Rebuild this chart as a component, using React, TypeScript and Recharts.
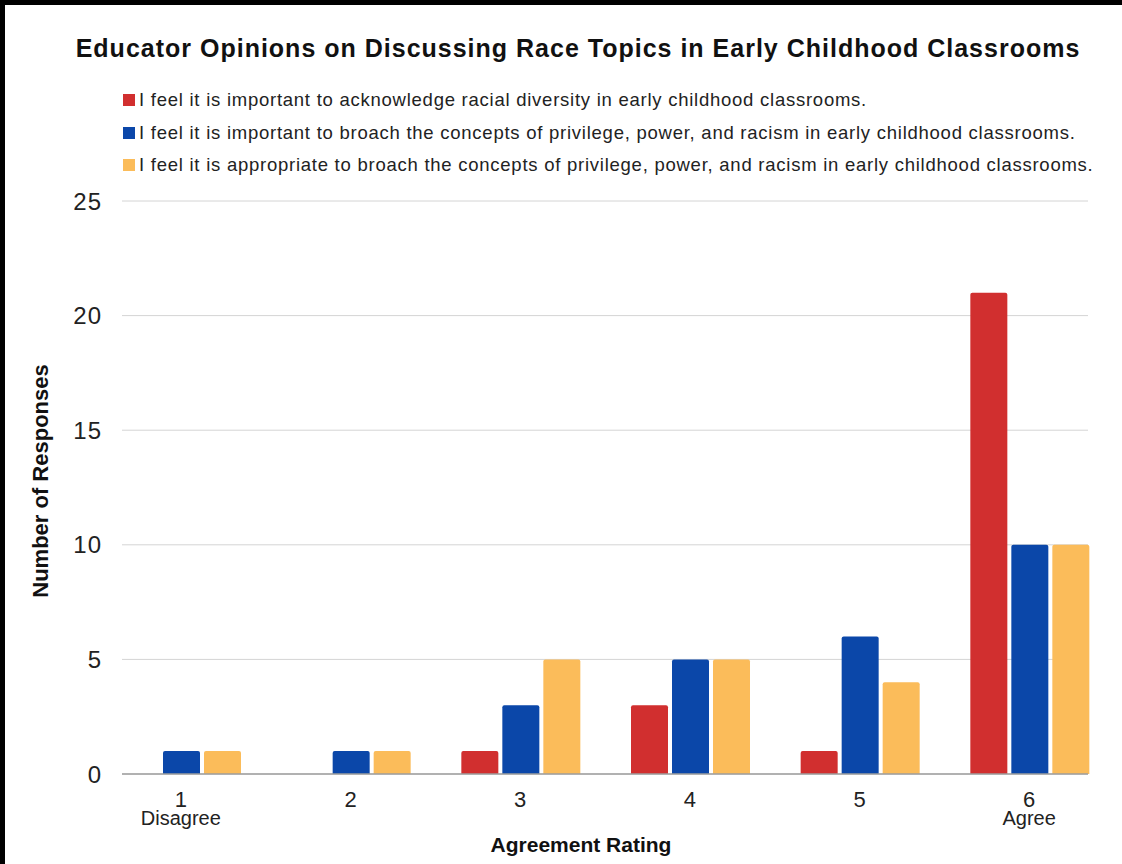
import { Bar, BarChart, CartesianGrid, XAxis, YAxis } from "recharts";

const RATINGS = ["1", "2", "3", "4", "5", "6"];
const RATING_NOTES = ["Disagree", "", "", "", "", "Agree"];
const ACKNOWLEDGE = [0, 0, 1, 3, 1, 21];
const IMPORTANT = [1, 1, 3, 5, 6, 10];
const APPROPRIATE = [1, 1, 5, 5, 4, 10];
const Y_TICKS = [0, 5, 10, 15, 20, 25];

const SERIES = [
  {
    key: "acknowledge",
    color: "#d12f2f",
    label: "I feel it is important to acknowledge racial diversity in early childhood classrooms.",
  },
  {
    key: "important",
    color: "#0b47a9",
    label:
      "I feel it is important to broach the concepts of privilege, power, and racism in early childhood classrooms.",
  },
  {
    key: "appropriate",
    color: "#fbbc5a",
    label:
      "I feel it is appropriate to broach the concepts of privilege, power, and racism in early childhood classrooms.",
  },
];

const data = RATINGS.map((r, i) => ({
  rating: r,
  acknowledge: ACKNOWLEDGE[i],
  important: IMPORTANT[i],
  appropriate: APPROPRIATE[i],
}));

const FONT = '"Liberation Sans", Arial, sans-serif';

const RatingTick = ({ x, y, payload, index }: any) => (
  <g>
    <text x={x} y={y} dy={25} textAnchor="middle" fontSize={22} fill="#222" fontFamily={FONT}>
      {payload.value}
    </text>
    {RATING_NOTES[index] && (
      <text x={x} y={y} dy={43} textAnchor="middle" fontSize={20} fill="#222" fontFamily={FONT}>
        {RATING_NOTES[index]}
      </text>
    )}
  </g>
);

export default function App() {
  return (
    <div
      style={{
        position: "fixed",
        left: 0,
        top: 0,
        width: 1122,
        height: 864,
        background: "#fff",
        fontFamily: FONT,
        overflow: "hidden",
      }}
    >
      {/* schwarzer Rand oben und links */}
      <div style={{ position: "absolute", left: 0, top: 0, width: 1122, height: 5, background: "#000" }} />
      <div style={{ position: "absolute", left: 0, top: 0, width: 5, height: 864, background: "#000" }} />

      <div
        style={{
          position: "absolute",
          left: 0,
          width: 1156,
          top: 34,
          textAlign: "center",
          fontSize: 25,
          letterSpacing: 1,
          fontWeight: "bold",
          color: "#111",
          whiteSpace: "nowrap",
        }}
      >
        Educator Opinions on Discussing Race Topics in Early Childhood Classrooms
      </div>

      <div style={{ position: "absolute", left: 123, top: 84 }}>
        {SERIES.map((s) => (
          <div
            key={s.key}
            style={{
              display: "flex",
              alignItems: "center",
              height: 32.5,
              fontSize: 18.5,
              letterSpacing: 0.75,
              color: "#222",
              whiteSpace: "nowrap",
            }}
          >
            <span style={{ width: 12, height: 12, background: s.color, marginRight: 4 }} />
            {s.label}
          </div>
        ))}
      </div>

      <BarChart
        width={1122}
        height={864}
        data={data}
        margin={{ top: 201, right: 34, bottom: 30, left: 20 }}
        barCategoryGap={26}
        barGap={4}
        style={{ position: "absolute", left: 0, top: 0 }}
      >
        <CartesianGrid vertical={false} stroke="#d4d4d4" />
        <XAxis
          dataKey="rating"
          padding={{ left: -26, right: -26 }}
          tick={<RatingTick />}
          tickLine={false}
          axisLine={{ stroke: "#9e9e9e", strokeWidth: 1.5 }}
          height={60}
          interval={0}
        />
        <YAxis
          domain={[0, 25]}
          ticks={Y_TICKS}
          width={102}
          tickLine={false}
          axisLine={false}
          tickSize={0}
          tickMargin={20}
          tick={{ fontSize: 24, fill: "#222", fontFamily: FONT, letterSpacing: 1 }}
        />
        {SERIES.map((s) => (
          <Bar
            key={s.key}
            dataKey={s.key}
            fill={s.color}
            radius={[2, 2, 0, 0]}
            isAnimationActive={false}
          />
        ))}
      </BarChart>

      <div
        style={{
          position: "absolute",
          left: 0,
          top: 833,
          width: 1162,
          textAlign: "center",
          fontSize: 21,
          fontWeight: "bold",
          color: "#111",
        }}
      >
        Agreement Rating
      </div>
      <div
        style={{
          position: "absolute",
          left: 41,
          top: 481,
          transform: "translate(-50%, -50%) rotate(-90deg)",
          whiteSpace: "nowrap",
          fontSize: 22,
          fontWeight: "bold",
          color: "#111",
        }}
      >
        Number of Responses
      </div>
    </div>
  );
}
